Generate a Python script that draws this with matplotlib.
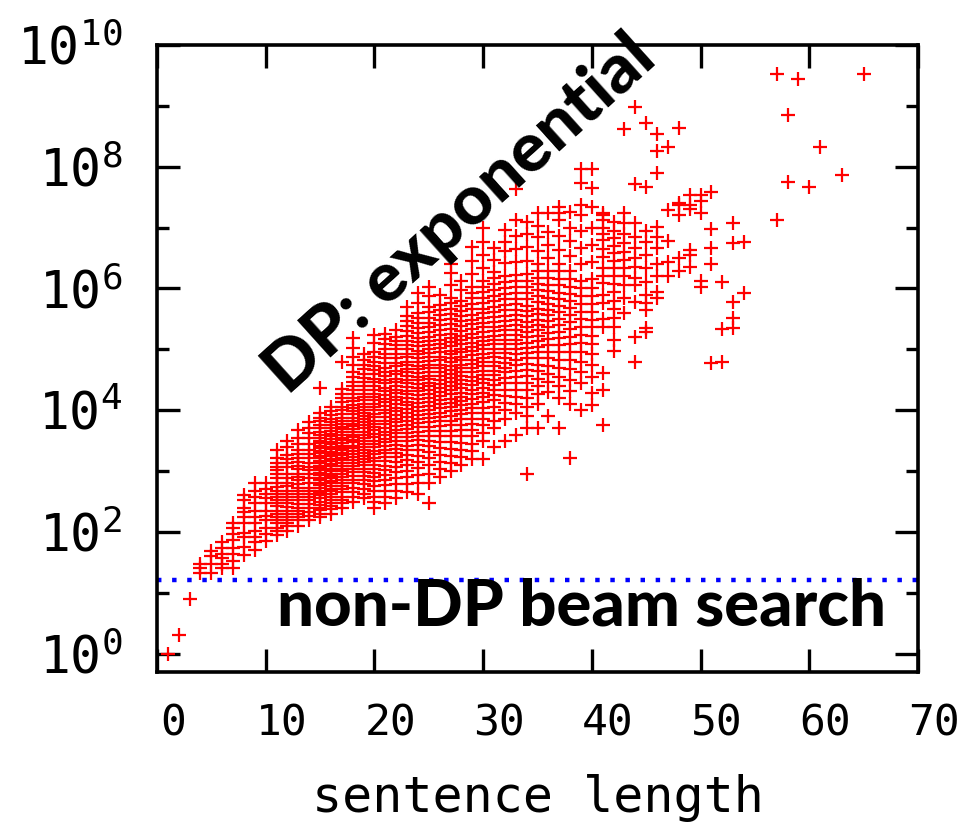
import numpy as np
import matplotlib.pyplot as plt
from matplotlib.ticker import NullFormatter
from matplotlib.transforms import ScaledTranslation

plt.rcParams['mathtext.fontset'] = 'custom'
plt.rcParams['mathtext.rm'] = 'DejaVu Sans Mono'

# sentence length -> log10(number of states) for each sentence
lengths = list(range(1, 55)) + [57, 58, 59, 60, 61, 63, 65]
log_states = [
    [0.0],
    [0.30],
    [0.90],
    [1.33, 1.40, 1.48],
    [1.33, 1.48, 1.61, 1.69],
    [1.40, 1.48, 1.58, 1.64, 1.74, 1.83],
    [1.40, 1.52, 1.64, 1.74, 1.86, 1.97, 2.06, 2.14],
    [1.62, 1.75, 1.91, 1.99, 2.14, 2.24, 2.32, 2.40, 2.52, 2.60],
    [1.70, 1.83, 1.91, 2.02, 2.14, 2.24, 2.35, 2.47, 2.57, 2.68, 2.80],
    [1.85, 1.97, 2.07, 2.19, 2.27, 2.35, 2.47, 2.55, 2.63, 2.71, 2.81],
    [1.95, 2.02, 2.06, 2.14, 2.20, 2.24, 2.30, 2.35, 2.42, 2.47, 2.52, 2.57, 2.63, 2.68, 2.74,
     2.80, 2.89, 2.95, 3.01, 3.07, 3.13, 3.22, 3.34],
    [2.02, 2.10, 2.14, 2.20, 2.24, 2.30, 2.35, 2.41, 2.47, 2.52, 2.57, 2.63, 2.68, 2.75, 2.81,
     2.88, 2.96, 3.06, 3.14, 3.20, 3.26, 3.39, 3.50],
    [2.10, 2.20, 2.25, 2.30, 2.35, 2.40, 2.46, 2.52, 2.58, 2.63, 2.68, 2.73, 2.79, 2.85, 2.90,
     2.96, 3.03, 3.09, 3.15, 3.21, 3.28, 3.34, 3.45, 3.55, 3.67],
    [2.19, 2.27, 2.33, 2.40, 2.46, 2.52, 2.58, 2.63, 2.68, 2.73, 2.80, 2.88, 2.95, 3.01, 3.07,
     3.13, 3.22, 3.28, 3.34, 3.45, 3.55, 3.62, 3.70, 3.80],
    [2.24, 2.30, 2.36, 2.40, 2.45, 2.50, 2.55, 2.60, 2.64, 2.68, 2.72, 2.77, 2.81, 2.85, 2.89,
     2.93, 2.97, 3.01, 3.05, 3.09, 3.13, 3.17, 3.21, 3.25, 3.29, 3.33, 3.38, 3.42, 3.46, 3.50,
     3.55, 3.60, 3.65, 3.70, 3.76, 3.82, 3.88, 3.95, 4.37],
    [2.30, 2.37, 2.42, 2.47, 2.52, 2.57, 2.62, 2.67, 2.71, 2.76, 2.80, 2.84, 2.88, 2.92, 2.96,
     3.00, 3.04, 3.08, 3.12, 3.16, 3.20, 3.24, 3.28, 3.32, 3.36, 3.40, 3.44, 3.48, 3.52, 3.57,
     3.61, 3.66, 3.70, 3.75, 3.80, 3.86, 3.92, 3.98, 4.05],
    [2.40, 2.47, 2.52, 2.58, 2.65, 2.70, 2.76, 2.81, 2.86, 2.91, 2.95, 3.00, 3.04, 3.09, 3.13,
     3.18, 3.22, 3.26, 3.30, 3.34, 3.38, 3.42, 3.46, 3.51, 3.55, 3.60, 3.64, 3.69, 3.73, 3.78,
     3.83, 3.88, 3.94, 4.00, 4.06, 4.13, 4.20, 4.27, 4.35, 4.79],
    [2.50, 2.58, 2.66, 2.73, 2.80, 2.86, 2.92, 2.98, 3.03, 3.08, 3.13, 3.18, 3.23, 3.28, 3.33,
     3.38, 3.42, 3.47, 3.51, 3.56, 3.60, 3.65, 3.69, 3.74, 3.78, 3.83, 3.88, 3.93, 3.98, 4.04,
     4.09, 4.15, 4.20, 4.27, 4.33, 4.40, 4.47, 4.55, 4.62, 4.74, 4.87, 5.03, 5.18],
    [2.55, 2.63, 2.70, 2.78, 2.85, 2.92, 2.98, 3.04, 3.10, 3.15, 3.20, 3.25, 3.30, 3.35, 3.40,
     3.45, 3.50, 3.55, 3.60, 3.65, 3.70, 3.75, 3.80, 3.85, 3.90, 3.95, 4.00, 4.05, 4.10, 4.16,
     4.21, 4.27, 4.33, 4.40, 4.46, 4.53, 4.60, 4.68, 4.75, 4.83, 4.92],
    [2.40, 2.50, 2.58, 2.67, 2.75, 2.83, 2.90, 2.97, 3.04, 3.10, 3.16, 3.22, 3.28, 3.33, 3.39,
     3.45, 3.50, 3.56, 3.61, 3.67, 3.72, 3.78, 3.83, 3.89, 3.94, 4.00, 4.05, 4.11, 4.16, 4.22,
     4.27, 4.33, 4.39, 4.46, 4.52, 4.59, 4.66, 4.73, 4.80, 4.88, 4.95, 5.10, 5.23],
    [2.47, 2.58, 2.68, 2.77, 2.86, 2.94, 3.02, 3.09, 3.16, 3.23, 3.29, 3.35, 3.41, 3.47, 3.53,
     3.59, 3.65, 3.71, 3.77, 3.83, 3.89, 3.95, 4.01, 4.07, 4.13, 4.19, 4.25, 4.31, 4.37, 4.44,
     4.50, 4.57, 4.63, 4.70, 4.77, 4.85, 4.92, 5.00, 5.08, 5.17, 5.26],
    [2.55, 2.67, 2.78, 2.88, 2.98, 3.07, 3.15, 3.23, 3.30, 3.37, 3.43, 3.50, 3.56, 3.62, 3.68,
     3.74, 3.80, 3.86, 3.92, 3.98, 4.04, 4.10, 4.16, 4.22, 4.28, 4.34, 4.40, 4.46, 4.52, 4.59,
     4.65, 4.72, 4.78, 4.85, 4.92, 5.00, 5.07, 5.14, 5.20, 5.31],
    [2.65, 2.78, 2.90, 3.00, 3.10, 3.19, 3.27, 3.35, 3.42, 3.49, 3.56, 3.63, 3.69, 3.76, 3.82,
     3.89, 3.95, 4.02, 4.08, 4.14, 4.20, 4.26, 4.32, 4.38, 4.44, 4.50, 4.56, 4.62, 4.68, 4.74,
     4.80, 4.87, 4.93, 5.00, 5.07, 5.14, 5.22, 5.30, 5.38, 5.46, 5.54, 5.69],
    [2.63, 2.80, 2.93, 3.05, 3.15, 3.25, 3.34, 3.43, 3.51, 3.58, 3.65, 3.72, 3.79, 3.86, 3.92,
     3.99, 4.05, 4.12, 4.18, 4.25, 4.31, 4.37, 4.43, 4.49, 4.55, 4.61, 4.67, 4.73, 4.79, 4.85,
     4.92, 4.98, 5.05, 5.12, 5.19, 5.27, 5.35, 5.43, 5.51, 5.60, 5.76, 5.92],
    [2.47, 2.81, 2.96, 3.10, 3.21, 3.32, 3.41, 3.50, 3.58, 3.66, 3.73, 3.80, 3.87, 3.94, 4.00,
     4.07, 4.14, 4.20, 4.27, 4.33, 4.39, 4.45, 4.51, 4.57, 4.63, 4.69, 4.75, 4.81, 4.87, 4.94,
     5.00, 5.07, 5.14, 5.21, 5.28, 5.36, 5.44, 5.52, 5.61, 5.70, 5.88, 6.02],
    [2.90, 3.03, 3.15, 3.27, 3.38, 3.48, 3.57, 3.66, 3.74, 3.82, 3.89, 3.96, 4.03, 4.10, 4.17,
     4.24, 4.30, 4.37, 4.43, 4.50, 4.56, 4.62, 4.69, 4.75, 4.82, 4.88, 4.95, 5.02, 5.09, 5.16,
     5.24, 5.32, 5.40, 5.48, 5.56, 5.64, 5.73, 5.89],
    [3.00, 3.13, 3.25, 3.36, 3.47, 3.57, 3.66, 3.75, 3.83, 3.91, 3.98, 4.05, 4.12, 4.19, 4.26,
     4.33, 4.40, 4.46, 4.53, 4.59, 4.66, 4.72, 4.79, 4.85, 4.92, 4.98, 5.05, 5.12, 5.19, 5.26,
     5.34, 5.42, 5.50, 5.58, 5.67, 5.76, 5.85, 6.05, 6.25, 6.41],
    [3.10, 3.23, 3.35, 3.46, 3.57, 3.67, 3.76, 3.85, 3.93, 4.01, 4.08, 4.15, 4.22, 4.29, 4.36,
     4.43, 4.49, 4.56, 4.62, 4.69, 4.75, 4.82, 4.88, 4.95, 5.01, 5.08, 5.15, 5.22, 5.30, 5.38,
     5.46, 5.54, 5.63, 5.72, 5.80, 5.97, 6.13],
    [3.20, 3.33, 3.45, 3.57, 3.67, 3.77, 3.86, 3.95, 4.03, 4.11, 4.19, 4.27, 4.34, 4.41, 4.48,
     4.55, 4.62, 4.69, 4.76, 4.83, 4.90, 4.97, 5.04, 5.11, 5.18, 5.26, 5.33, 5.41, 5.49, 5.57,
     5.66, 5.75, 5.84, 5.93, 6.03, 6.23, 6.45, 6.68],
    [3.20, 3.50, 3.63, 3.75, 3.85, 3.95, 4.04, 4.13, 4.21, 4.29, 4.37, 4.44, 4.51, 4.58, 4.65,
     4.72, 4.79, 4.86, 4.93, 5.00, 5.07, 5.14, 5.21, 5.28, 5.36, 5.43, 5.51, 5.59, 5.67, 5.76,
     5.85, 5.94, 6.03, 6.13, 6.33, 6.55, 6.77, 6.99],
    [3.40, 3.70, 3.83, 3.95, 4.06, 4.16, 4.25, 4.34, 4.42, 4.50, 4.58, 4.65, 4.72, 4.80, 4.87,
     4.94, 5.01, 5.08, 5.15, 5.22, 5.30, 5.37, 5.45, 5.53, 5.61, 5.70, 5.79, 5.88, 5.97, 6.07,
     6.17, 6.27, 6.47, 6.66],
    [3.50, 3.85, 4.00, 4.12, 4.23, 4.34, 4.44, 4.53, 4.62, 4.70, 4.78, 4.86, 4.94, 5.01, 5.09,
     5.16, 5.24, 5.31, 5.39, 5.47, 5.55, 5.64, 5.73, 5.82, 5.91, 6.01, 6.11, 6.21, 6.42, 6.62,
     6.76, 6.96],
    [3.60, 3.95, 4.10, 4.22, 4.34, 4.45, 4.55, 4.65, 4.74, 4.83, 4.92, 5.00, 5.08, 5.16, 5.24,
     5.32, 5.40, 5.48, 5.56, 5.65, 5.74, 5.83, 5.92, 6.02, 6.12, 6.22, 6.43, 6.65, 6.87, 7.12,
     7.63],
    [2.96, 3.70, 3.90, 4.05, 4.20, 4.33, 4.45, 4.56, 4.66, 4.76, 4.85, 4.94, 5.03, 5.11, 5.20,
     5.28, 5.37, 5.45, 5.54, 5.63, 5.72, 5.82, 5.92, 6.02, 6.12, 6.23, 6.45, 6.68, 6.90, 7.09],
    [3.70, 4.10, 4.27, 4.40, 4.52, 4.64, 4.75, 4.85, 4.95, 5.04, 5.13, 5.22, 5.31, 5.40, 5.49,
     5.58, 5.67, 5.77, 5.87, 5.97, 6.07, 6.18, 6.29, 6.40, 6.62, 6.85, 7.02, 7.24],
    [3.91, 4.30, 4.47, 4.60, 4.73, 4.85, 4.96, 5.07, 5.17, 5.27, 5.37, 5.46, 5.56, 5.65, 5.75,
     5.85, 5.96, 6.06, 6.17, 6.28, 6.50, 6.72, 6.93, 7.24],
    [3.70, 4.20, 4.40, 4.55, 4.70, 4.83, 4.95, 5.07, 5.18, 5.29, 5.40, 5.50, 5.61, 5.71, 5.82,
     5.93, 6.05, 6.16, 6.28, 6.40, 6.63, 6.86, 7.12, 7.24, 7.34],
    [3.22, 4.10, 4.32, 4.50, 4.67, 4.82, 4.96, 5.09, 5.21, 5.33, 5.45, 5.56, 5.68, 5.79, 5.91,
     6.03, 6.16, 6.28, 6.53, 6.78, 7.00, 7.25],
    [4.00, 4.45, 4.63, 4.80, 4.95, 5.10, 5.24, 5.37, 5.50, 5.62, 5.75, 5.87, 6.00, 6.13, 6.40,
     6.67, 6.95, 7.20, 7.37, 7.73, 7.96],
    [4.08, 4.29, 4.55, 4.75, 4.92, 5.08, 5.22, 5.36, 5.49, 5.62, 5.75, 5.88, 6.01, 6.15, 6.43,
     6.72, 7.00, 7.34, 7.65, 7.96],
    [3.75, 4.33, 4.61, 5.36, 5.50, 5.76, 5.90, 6.09, 6.20, 6.33, 6.51, 6.65, 6.80, 6.90, 7.00,
     7.12, 7.20, 7.24],
    [4.98, 5.15, 5.36, 5.51, 5.67, 5.80, 5.95, 6.08, 6.20, 6.33, 6.45, 6.58, 6.70, 6.83, 6.95,
     7.10],
    [5.59, 5.84, 6.05, 6.20, 6.33, 6.46, 6.60, 6.75, 6.90, 7.07, 7.24, 8.62],
    [4.79, 5.20, 5.77, 6.05, 6.18, 6.35, 6.50, 6.66, 6.84, 7.07, 7.71, 8.98],
    [5.28, 5.35, 5.64, 5.76, 5.89, 6.10, 6.33, 6.55, 6.76, 6.95, 7.66, 8.72],
    [5.84, 5.94, 6.20, 6.40, 6.66, 6.85, 7.01, 7.89, 8.26, 8.54],
    [6.20, 6.43, 6.78, 7.29, 8.32],
    [6.28, 6.50, 7.20, 7.37, 7.40, 8.63],
    [6.35, 6.55, 6.64, 7.30, 7.37, 7.53],
    [6.02, 6.13, 7.24, 7.43, 7.53],
    [4.77, 6.41, 6.66, 6.97, 7.58],
    [4.79, 5.33, 6.10],
    [5.35, 5.51, 5.77, 6.74, 7.07],
    [5.92, 6.76],
    [7.12, 9.52],
    [7.75, 8.85],
    [9.44],
    [7.66],
    [8.32],
    [7.86],
    [9.52],
]
beam_states = 16

x_ticks = [0, 10, 20, 30, 40, 50, 60, 70]
y_major = [1e0, 1e2, 1e4, 1e6, 1e8, 1e10]
y_labels = [r'$\mathregular{10^{0}}$', r'$\mathregular{10^{2}}$', r'$\mathregular{10^{4}}$',
            r'$\mathregular{10^{6}}$', r'$\mathregular{10^{8}}$', r'$\mathregular{10^{10}}$']
y_minor = [1e1, 1e3, 1e5, 1e7, 1e9]

xs = np.concatenate([[n] * len(v) for n, v in zip(lengths, log_states)])
ys = 10 ** np.concatenate(log_states)

fig = plt.figure(figsize=(9.65, 8.27), dpi=100)
ax = fig.add_axes([0.1627, 0.1874, 0.7886, 0.7582])

ax.plot(xs, ys, linestyle='none', marker='+', ms=9.5, mew=1.6, color='red', clip_on=False)
ax.axhline(beam_states, color='blue', lw=3.2, ls=(0, (1, 2.4)))

ax.set_yscale('log')
ax.set_xlim(0, 70)
ax.set_ylim(0.5, 1e10)
ax.set_xticks(x_ticks)
ax.set_xticklabels([str(t) for t in x_ticks])
ax.set_yticks(y_major)
ax.set_yticklabels(y_labels)
ax.set_yticks(y_minor, minor=True)
ax.yaxis.set_minor_formatter(NullFormatter())
ax.xaxis.set_minor_locator(plt.NullLocator())

for s in ax.spines.values():
    s.set_linewidth(2.6)
ax.tick_params(which='both', direction='in', top=True, right=True, width=2.4)
ax.tick_params(which='major', length=16.5)
ax.tick_params(which='minor', length=8.5)
ax.tick_params(axis='y', which='major', pad=25)
ax.tick_params(axis='x', which='major', pad=22)

mono = 'DejaVu Sans Mono'
for lab in ax.get_xticklabels():
    lab.set_fontfamily(mono)
    lab.set_fontsize(31)
    lab.set_transform(lab.get_transform() + ScaledTranslation(0.16, 0, fig.dpi_scale_trans))
for lab in ax.get_yticklabels():
    lab.set_fontfamily(mono)
    lab.set_fontsize(37)

ax.set_xlabel('sentence length', fontfamily=mono, fontsize=36, labelpad=21)

ax.text(0.398, 0.729, 'DP: exponential', transform=ax.transAxes, rotation=42,
        rotation_mode='anchor', ha='center', va='center',
        fontfamily='Lato', fontweight='black', fontsize=50)
ax.text(0.558, 0.0734, 'non-DP beam search', transform=ax.transAxes,
        ha='center', va='baseline', fontfamily='Lato', fontweight='black', fontsize=47)

fig.savefig('out.png', dpi=100)
